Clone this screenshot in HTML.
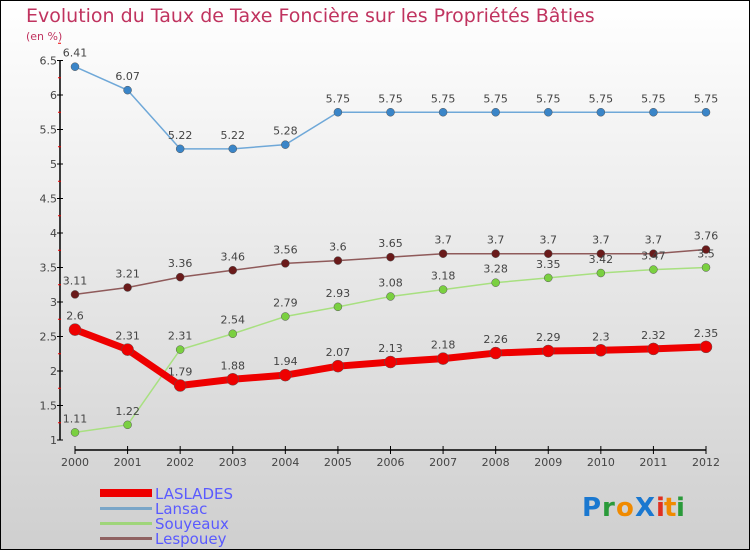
<!DOCTYPE html>
<html><head><meta charset="utf-8"><style>
body{margin:0}
#c{width:750px;height:550px;position:relative;box-sizing:border-box;border:1px solid #000;background:linear-gradient(#fff,#cfcfcf);font-family:"DejaVu Sans","Liberation Sans",sans-serif;overflow:hidden}
</style></head><body>
<div id="c">
<svg id="s" width="748" height="548" viewBox="1 1 748 548" xmlns="http://www.w3.org/2000/svg" font-family="DejaVu Sans, Liberation Sans, sans-serif">
<text x="26" y="22" font-size="19" fill="#c0335f">Evolution du Taux de Taxe Foncière sur les Propriétés Bâties</text>
<text x="26" y="40" font-size="11" fill="#c0335f">(en %)</text>
<g id="axes"></g><g id="series"></g>
<g>
<rect x="100" y="489" width="52" height="8" fill="#e00"/>
<text x="155" y="499" font-size="15" fill="#5a5aff">LASLADES</text>
<rect x="100" y="507" width="52" height="3" fill="#7aa6c8"/>
<text x="155" y="514" font-size="15" fill="#5a5aff">Lansac</text>
<rect x="100" y="522" width="52" height="3" fill="#9fd57a"/>
<text x="155" y="529" font-size="15" fill="#5a5aff">Souyeaux</text>
<rect x="100" y="537" width="52" height="3" fill="#8f6262"/>
<text x="155" y="544" font-size="15" fill="#5a5aff">Lespouey</text>
</g>
<g font-size="26" font-weight="bold">
<text x="582" y="516" fill="#1a78d0">P</text><text x="602" y="516" fill="#2a9a3a">r</text><text x="616" y="516" fill="#f08a00">o</text><text x="635" y="516" fill="#1a78d0">X</text><text x="656" y="516" fill="#e03020">i</text><text x="664" y="516" fill="#f08a00">t</text><text x="676" y="516" fill="#2a9a3a">i</text>
</g>
</svg>
</div>
<script>
const years=[2000,2001,2002,2003,2004,2005,2006,2007,2008,2009,2010,2011,2012];
const laslades=[2.6,2.31,1.79,1.88,1.94,2.07,2.13,2.18,2.26,2.29,2.3,2.32,2.35];
const lansac=[6.41,6.07,5.22,5.22,5.28,5.75,5.75,5.75,5.75,5.75,5.75,5.75,5.75];
const souyeaux=[1.11,1.22,2.31,2.54,2.79,2.93,3.08,3.18,3.28,3.35,3.42,3.47,3.5];
const lespouey=[3.11,3.21,3.36,3.46,3.56,3.6,3.65,3.7,3.7,3.7,3.7,3.7,3.76];
const yTicks=[1,1.5,2,2.5,3,3.5,4,4.5,5,5.5,6,6.5];
const NS="http://www.w3.org/2000/svg";
const xs=i=>75+i*(706-75)/(years.length-1);
const ys=v=>440-(v-1)*69;
function mk(t,a,p){const e=document.createElementNS(NS,t);for(const k in a)e.setAttribute(k,a[k]);p.appendChild(e);return e;}
const ax=document.getElementById('axes'),se=document.getElementById('series');
let l=mk('line',{x1:60,y1:ys(6.5),x2:60,y2:ys(1),stroke:'#000','stroke-width':1.5},ax);


yTicks.forEach(v=>{
 let t=mk('line',{x1:57,y1:ys(v),x2:63,y2:ys(v),stroke:'#000'},ax);
 
 
 let r=mk('line',{x1:58,y1:ys(v+0.25),x2:61,y2:ys(v+0.25),stroke:'#e00'},ax);
 
 
 let tx=mk('text',{x:57,y:ys(v)+4,'font-size':11,fill:'#444','text-anchor':'end'},ax);
 tx.textContent=String(v);
 
 
});
let xa=mk('line',{x1:75,y1:450,x2:706,y2:450,stroke:'#000','stroke-width':1.5},ax);


years.forEach((y,i)=>{
 let t=mk('line',{x1:xs(i),y1:446,x2:xs(i),y2:454,stroke:'#000'},ax);
 
 
 let tx=mk('text',{x:xs(i),y:466,'font-size':11,fill:'#444','text-anchor':'middle'},ax);
 tx.textContent=String(y);
 
 
});
function series(name,vals,color,dot,w,r){
 const g=mk('g',{},se);
 
 
 const p=mk('polyline',{points:vals.map((v,i)=>xs(i)+','+ys(v)).join(' '),fill:'none',stroke:color,'stroke-width':w},g);
 
 
 vals.forEach((v,i)=>{
  const c=mk('circle',{cx:xs(i),cy:ys(v),r:r,fill:dot,stroke:'#555','stroke-width':0.5},g);
  
  
  const t=mk('text',{x:xs(i),y:ys(v)-10,'font-size':11,fill:'#444','text-anchor':'middle'},g);
  t.textContent=String(v);
  
  
 });
}
series('lansac',lansac,'#6fa8d8','#3a85c8',1.5,4);
series('lespouey',lespouey,'#8f5a5a','#6a1a1a',1.5,4);
series('souyeaux',souyeaux,'#a8e080','#7ad040',1.5,4);
series('laslades',laslades,'#ee0000','#ee0000',7,6);
</script>
</body></html>
